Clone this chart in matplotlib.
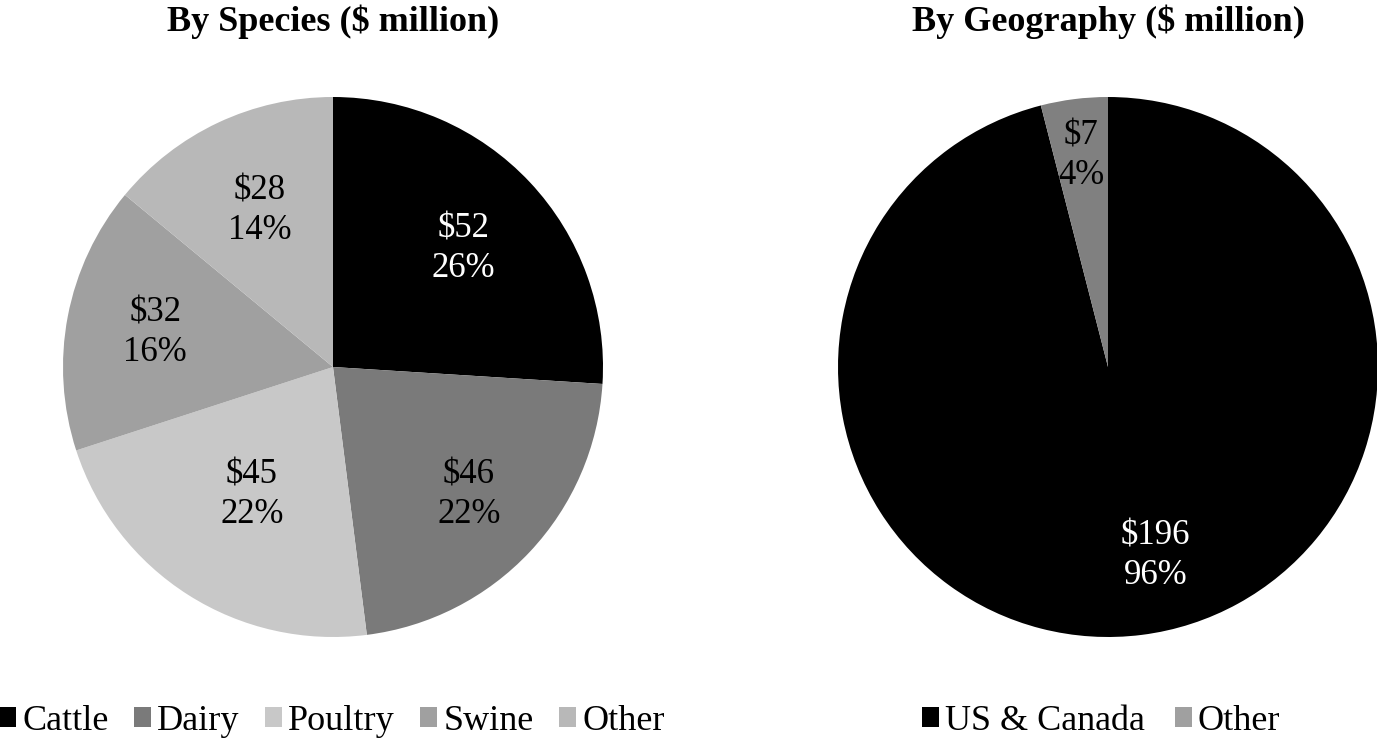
import matplotlib
matplotlib.use("Agg")
import matplotlib.pyplot as plt
from matplotlib.patches import Patch
import numpy as np

plt.rcParams['font.family'] = ['Liberation Serif', 'DejaVu Serif']

species = ["Cattle", "Dairy", "Poultry", "Swine", "Other"]
species_values = [52, 46, 45, 32, 28]
species_pct = [26, 22, 22, 16, 14]
species_colors = ["#000000", "#7a7a7a", "#c8c8c8", "#a0a0a0", "#b8b8b8"]
species_text_colors = ["white", "black", "black", "black", "black"]

geo = ["US & Canada", "Other"]
geo_values = [196, 7]
geo_pct = [96, 4]
geo_colors = ["#000000", "#808080"]
geo_legend_colors = ["#000000", "#a0a0a0"]
geo_text_colors = ["white", "black"]

W, H = 1377, 745
fig = plt.figure(figsize=(W / 100, H / 100), dpi=100)


def add_pie(cx, cy, r, values, pcts, colors, tcolors, dists, shifts):
    ax = fig.add_axes([(cx - r) / W, 1 - (cy + r) / H, 2 * r / W, 2 * r / H])
    ax.pie(pcts, colors=colors, startangle=90, counterclock=False,
           wedgeprops=dict(linewidth=0))
    total = sum(pcts)
    cum = 0
    for v, p, tc, d, s in zip(values, pcts, tcolors, dists, shifts):
        mid = 90 - (cum + p / 2) / total * 360 + s
        cum += p
        x = d * np.cos(np.radians(mid))
        y = d * np.sin(np.radians(mid))
        ax.text(x, y, f"${v}\n{p}%", ha="center", va="center", fontsize=25,
                color=tc, linespacing=1.25)
    ax.set_xlim(-1, 1)
    ax.set_ylim(-1, 1)
    ax.set_aspect("equal")
    ax.axis("off")
    return ax


add_pie(333, 367, 270, species_values, species_pct, species_colors, species_text_colors,
        [0.65, 0.69, 0.56, 0.67, 0.64], [-1, 0, 0, 0, 0])
add_pie(1108, 367, 270, geo_values, geo_pct, geo_colors, geo_text_colors,
        [0.72, 0.79], [7, 0])

fig.text(333 / W, 1 - 22 / H, "By Species ($ million)", ha="center", va="center",
         fontsize=26, fontweight="bold")
fig.text(1108 / W, 1 - 22 / H, "By Geography ($ million)", ha="center", va="center",
         fontsize=26, fontweight="bold")

h1 = [Patch(facecolor=c, edgecolor="none") for c in species_colors]
fig.legend(h1, species, loc="center", bbox_to_anchor=(332 / W, 1 - 721 / H), ncol=5,
           frameon=False, fontsize=26, handlelength=0.47, handleheight=0.47,
           handletextpad=0.17, columnspacing=0.7, borderaxespad=0, borderpad=0)
h2 = [Patch(facecolor=c, edgecolor="none") for c in geo_legend_colors]
fig.legend(h2, geo, loc="center", bbox_to_anchor=(1101 / W, 1 - 721 / H), ncol=2,
           frameon=False, fontsize=26, handlelength=0.47, handleheight=0.47,
           handletextpad=0.17, columnspacing=0.83, borderaxespad=0, borderpad=0)

fig.savefig("out.png", dpi=100)
